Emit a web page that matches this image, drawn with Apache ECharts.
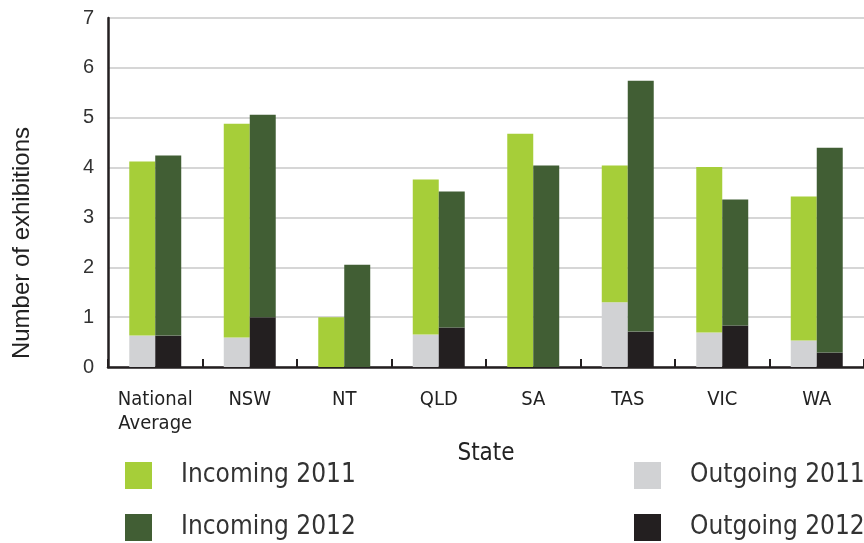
<!DOCTYPE html>
<html><head><meta charset="utf-8">
<script src="https://cdn.jsdelivr.net/npm/echarts@6/dist/echarts.min.js"></script>
<style>html,body{margin:0;padding:0;background:#fff}#c{width:864px;height:543px}</style>
</head><body><div id="c"></div>
<script>
var categories = ['National\nAverage','NSW','NT','QLD','SA','TAS','VIC','WA'];
var outgoing2011 = [0.63,0.59,0,0.65,0,1.30,0.69,0.53];
var incoming2011 = [3.49,4.29,1.0,3.11,4.68,2.74,3.32,2.89];
var outgoing2012 = [0.63,1.0,0,0.79,0,0.71,0.83,0.29];
var incoming2012 = [3.61,4.06,2.05,2.73,4.04,5.03,2.53,4.11];
var yTicks = [0,1,2,3,4,5,6,7];
var yTitle = 'Number of exhibitions';
var xTitle = 'State';

var FONT = "'Liberation Sans Narrow','DejaVu Sans Condensed','Liberation Sans',sans-serif";
var chart = echarts.init(document.getElementById('c'));
function bar(name, data, stack, color){
  return {name:name,type:'bar',stack:stack,data:data,barCategoryGap:'45%',barGap:'0%',
    itemStyle:{color:color},emphasis:{disabled:true}};
}
function leg(name, left, top){
  return {left:left,top:top,itemWidth:27,itemHeight:27,data:[name],selectedMode:false,icon:'rect',
    padding:0,textStyle:{fontFamily:FONT,fontSize:26,color:'#333',padding:[5,0,0,24]}};
}
chart.setOption({
  animation:false,
  grid:{left:108,top:18,width:762,height:349},
  legend:[
    leg('Incoming 2011',125,462),
    leg('Incoming 2012',125,514),
    leg('Outgoing 2011',634,462),
    leg('Outgoing 2012',634,514)
  ],
  graphic:[{type:'text',x:22,y:243,rotation:Math.PI/2,
    style:{text:yTitle,font:"24px 'Liberation Sans',sans-serif",fill:'#222',textAlign:'center',textVerticalAlign:'middle'}}],
  xAxis:{type:'category',data:categories,
    name:xTitle,nameLocation:'middle',nameGap:75,
    nameTextStyle:{fontFamily:FONT,fontSize:24,color:'#222'},
    axisLine:{lineStyle:{color:'#231f20',width:2.5}},
    axisTick:{show:true,inside:true,length:8,lineStyle:{color:'#231f20',width:2}},
    axisLabel:{interval:0,margin:21,fontFamily:FONT,fontSize:20,color:'#222',lineHeight:24}
  },
  yAxis:{type:'value',min:yTicks[0],max:yTicks[yTicks.length-1],interval:1,
    axisLine:{show:true,lineStyle:{color:'#231f20',width:2.5}},
    axisTick:{show:false},
    axisLabel:{margin:14,fontFamily:"'Liberation Sans',sans-serif",fontSize:20,color:'#333'},
    splitLine:{lineStyle:{color:'#c8c8c8',width:1.5}}
  },
  series:[
    bar('Outgoing 2011',outgoing2011,'2011','#d1d2d4'),
    bar('Incoming 2011',incoming2011,'2011','#a6ce39'),
    bar('Outgoing 2012',outgoing2012,'2012','#231f20'),
    bar('Incoming 2012',incoming2012,'2012','#415e34')
  ]
});
</script></body></html>
